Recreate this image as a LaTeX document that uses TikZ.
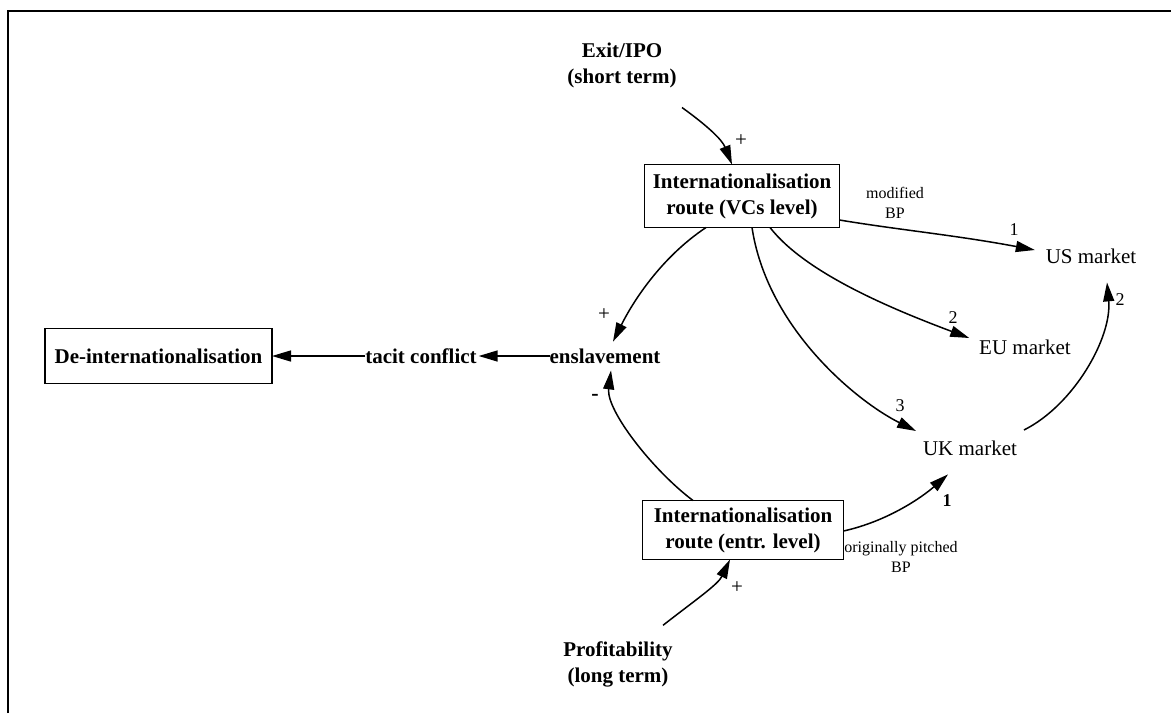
\documentclass[tikz,border=0pt]{standalone}
\usepackage{fontspec}
\setmainfont{Liberation Serif}
\usetikzlibrary{arrows.meta,calc}
\begin{document}
\begin{tikzpicture}[x=0.5pt,y=-0.5pt,
  every node/.style={inner sep=0pt,outer sep=0pt},
  var/.style={font=\fontsize{10.5}{13}\selectfont\bfseries,align=center},
  boxed/.style={var,draw,line width=0.8pt},
  mkt/.style={font=\fontsize{10.5}{13}\selectfont},
  note/.style={font=\fontsize{8}{10}\selectfont,align=center},
  num/.style={font=\fontsize{9}{10}\selectfont},
  sign/.style={font=\fontsize{10.5}{11}\selectfont},
  link/.style={line width=0.75pt,-{Triangle[length=9.5pt,width=5.5pt]}}]
  \useasboundingbox (0,0) rectangle (1171,713);
  % frame
  \draw[line width=1.4pt] (8,713) -- (8,11) -- (1171,11);

  % variables
  \node[var] (exit) at (622,65) {Exit/IPO\\(short term)};
  \node[boxed,minimum width=97.5pt,minimum height=31.5pt] (vcs) at (742,196) {Internationalisation\\route (VCs level)};
  \node[boxed,minimum width=100.5pt,minimum height=29.5pt] (entr) at (743,530) {Internationalisation\\route (entr. level)};
  \node[var] (profit) at (618,664) {Profitability\\(long term)};
  \node[var] (ensl) at (605,356) {enslavement};
  \node[var] (tacit) at (421,356) {tacit conflict};
  \node[boxed,minimum width=113.5pt,minimum height=27.5pt] (deint) at (158.5,356) {De-internationalisation};
  \node[mkt] (us) at (1091,256) {US market};
  \node[mkt] (eu) at (1025,347) {EU market};
  \node[mkt] (uk) at (970,448) {UK market};

  % notes on the routes
  \node[note] (mbp) at (895,203) {modified\\BP};
  \node[note] (obp) at (901,557) {originally pitched\\BP};

  % polarities and orderings
  \node[sign] (p1) at (741,141) {+};
  \node[sign] (p2) at (604,315) {+};
  \node[sign,font=\fontsize{11}{12}\selectfont\bfseries] (m1) at (595,397) {-};
  \node[sign] (p3) at (737,588) {+};
  \node[num] (n1) at (1014,230) {1};
  \node[num] (n2) at (953,318) {2};
  \node[num] (n3) at (900,406) {3};
  \node[num] (n4) at (1120,300) {2};
  \node[num,font=\fontsize{9}{10}\selectfont\bfseries] (n5) at (947,501) {1};

  % links
  \draw[link] ($(exit.south)+(60,20)$) .. controls +(25,18) and +(-10,-25) .. ($(vcs.north)+(-10,0)$);
  \draw[link] ($(profit.north)+(45,-16)$) .. controls +(32,-25) and +(-12,25) .. ($(entr.south)+(-13,0)$);
  \draw[link] ($(vcs.south)+(-36,0)$) .. controls +(-45,30) and +(20,-40) .. ($(ensl.north)+(8,-7)$);
  \draw[link] ($(entr.north)+(-50,0)$) .. controls +(-40,-30) and +(-5,40) .. ($(ensl.south)+(6,7)$);
  \draw[link] (ensl.west) -- ($(tacit.east)+(2,0)$);
  \draw[link] (tacit.west) -- (deint.east);
  \draw[link] ($(vcs.east)+(0,24)$) .. controls +(60,10) and +(-80,-15) .. ($(us.west)+(-11,-6)$);
  \draw[link] ($(vcs.south)+(28,0)$) .. controls +(35,45) and +(-80,-30) .. ($(eu.west)+(-10,-9)$);
  \draw[link] ($(vcs.south)+(10,0)$) .. controls +(15,100) and +(-60,-30) .. ($(uk.west)+(-7,-17)$);
  \draw[link] ($(uk.east)+(7,-18)$) .. controls +(50,-25) and +(5,55) .. ($(us.south)+(16,19)$);
  \draw[link] ($(entr.east)+(0,1)$) .. controls +(45,-10) and +(-25,22) .. ($(uk.south)+(-22,19)$);
\end{tikzpicture}
\end{document}
